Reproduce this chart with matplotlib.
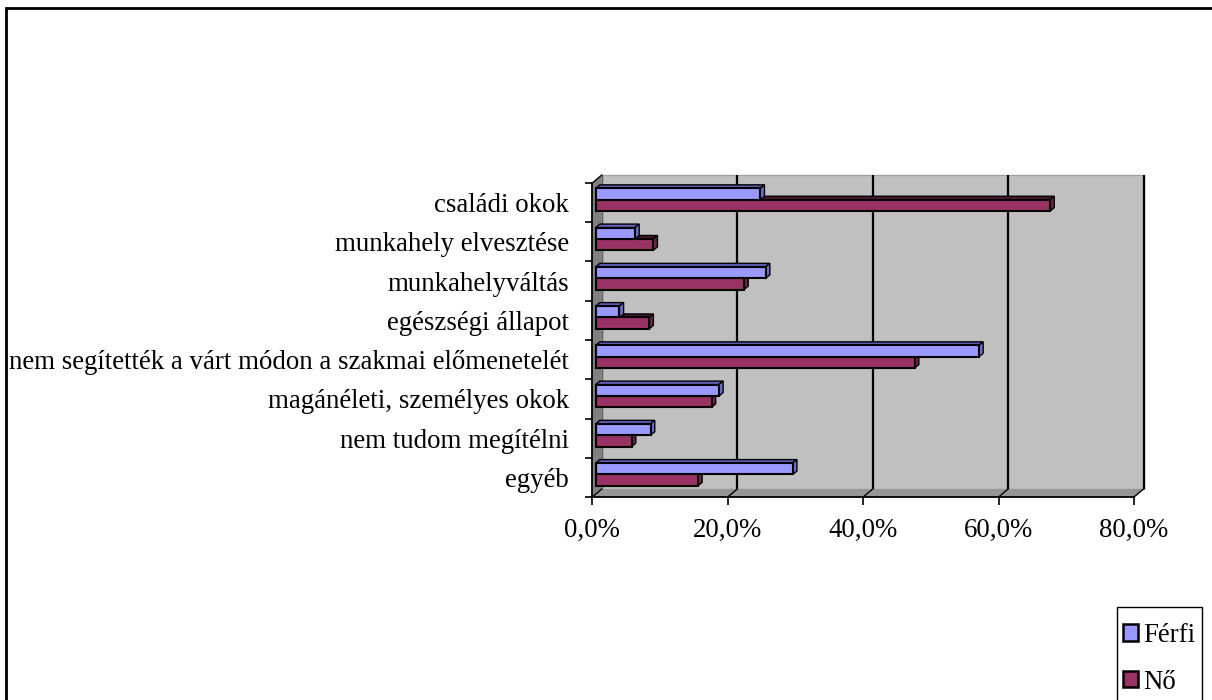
import matplotlib
matplotlib.use("Agg")
import matplotlib.pyplot as plt
from matplotlib.patches import Polygon, Rectangle, Patch
import numpy as np

# ---- data -------------------------------------------------------------
categories = [
    "családi okok",
    "munkahely elvesztése",
    "munkahelyváltás",
    "egészségi állapot",
    "nem segítették a várt módon a szakmai előmenetelét",
    "magánéleti, személyes okok",
    "nem tudom megítélni",
    "egyéb",
]
ferfi = [24.3, 5.8, 25.1, 3.5, 56.6, 18.2, 8.1, 29.1]
no = [67.1, 8.5, 21.9, 7.9, 47.1, 17.1, 5.3, 15.1]
series_names = ["Férfi", "Nő"]
x_ticks = [0, 20, 40, 60, 80]
x_labels = ["0,0%", "20,0%", "40,0%", "60,0%", "80,0%"]

# ---- style --------------------------------------------------------------
plt.rcParams["font.family"] = ["Liberation Serif", "DejaVu Serif"]
FS = 19.4
face = {"Férfi": "#9999FF", "Nő": "#993366"}
top_c = {"Férfi": "#5E5EB4", "Nő": "#4A1530"}
side_c = {"Férfi": "#7070CC", "Nő": "#6E2347"}

W, H = 1212, 700
fig = plt.figure(figsize=(W / 100, H / 100), dpi=100)

# front plane of the 3-D box, in pixels
px0, px1 = 592.3, 1134.0
py0, py1 = 183.0, 497.0
ax = fig.add_axes([px0 / W, 1 - py1 / H, (px1 - px0) / W, (py1 - py0) / H])
ax.set_facecolor("none")
n = len(categories)
ax.set_xlim(0, 80)
ax.set_ylim(n - 0.5, -0.5)

DEPTH_PX = (9.5, 8.0)  # screen shift of the back wall (right, up)


def shift(d):
    """Data-space offset for a fraction d of the box depth."""
    o = ax.transData.transform((0, 0))
    s = o + np.array(DEPTH_PX) * d
    return ax.transData.inverted().transform(s)


def poly(pts, **kw):
    p = Polygon(pts, closed=True, clip_on=False, **kw)
    ax.add_patch(p)
    return p


D = shift(1.0)
ybot, ytop = n - 0.5, -0.5

# walls and floor
poly([(0 + D[0], ybot + D[1]), (80 + D[0], ybot + D[1]),
      (80 + D[0], ytop + D[1]), (0 + D[0], ytop + D[1])],
     facecolor="#C0C0C0", edgecolor="#A0A0A0", linewidth=1.0, zorder=0.5)
poly([(0, ybot), (80, ybot), (80 + D[0], ybot + D[1]), (0 + D[0], ybot + D[1])],
     facecolor="#969696", edgecolor="none", zorder=0.6)
poly([(0, ytop), (0, ybot), (0 + D[0], ybot + D[1]), (0 + D[0], ytop + D[1])],
     facecolor="#808080", edgecolor="none", zorder=0.6)

# gridlines on the back wall and their traces across the floor
for t in x_ticks:
    if t > 0:
        ax.plot([t + D[0], t + D[0]], [ybot + D[1], ytop + D[1]], color="black",
                lw=1.6, zorder=0.7, clip_on=False, solid_capstyle="butt")
    ax.plot([t, t + D[0]], [ybot, ybot + D[1]], color="black", lw=1.0,
            zorder=0.7, clip_on=False)
ax.plot([0, D[0]], [ytop, ytop + D[1]], color="black", lw=1.0, zorder=0.7,
        clip_on=False)
ax.plot([D[0], D[0]], [ybot + D[1], ytop + D[1]], color="#606060", lw=1.0,
        zorder=0.7, clip_on=False)

# 3-D bars
BH = 0.29
d0, d1 = 0.36, 0.8
S0, S1 = shift(d0), shift(d1)


def bar3d(y_low, v, name, z):
    y_high = y_low + BH
    # top face (smaller y value is higher on screen)
    poly([(S0[0], y_low + S0[1]), (v + S0[0], y_low + S0[1]),
          (v + S1[0], y_low + S1[1]), (S1[0], y_low + S1[1])],
         facecolor=top_c[name], edgecolor="black", linewidth=1.0, zorder=z)
    # right side face
    poly([(v + S0[0], y_low + S0[1]), (v + S0[0], y_high + S0[1]),
          (v + S1[0], y_high + S1[1]), (v + S1[0], y_low + S1[1])],
         facecolor=side_c[name], edgecolor="black", linewidth=1.0, zorder=z)
    # front face
    poly([(S0[0], y_low + S0[1]), (v + S0[0], y_low + S0[1]),
          (v + S0[0], y_high + S0[1]), (S0[0], y_high + S0[1])],
         facecolor=face[name], edgecolor="black", linewidth=1.5, zorder=z + 0.1)


for i in range(n):
    bar3d(i, no[i], "Nő", 3 + 0.01 * i)
for i in range(n):
    bar3d(i - BH, ferfi[i], "Férfi", 4 + 0.01 * i)

# axes, ticks, labels
for s in ("top", "right"):
    ax.spines[s].set_visible(False)
for s in ("left", "bottom"):
    ax.spines[s].set_color("black")
    ax.spines[s].set_linewidth(1.3)
    ax.spines[s].set_zorder(5)

ax.set_xticks(x_ticks, x_labels)
ax.tick_params(axis="x", direction="out", length=6, width=1.2, pad=9,
               labelsize=FS, colors="black")
ax.set_yticks(np.arange(-0.5, n, 1.0), [""] * (n + 1))
ax.tick_params(axis="y", which="major", direction="out", length=5, width=1.2)
ax.set_yticks(np.arange(n), categories, minor=True)
ax.tick_params(axis="y", which="minor", length=0, pad=17, labelsize=FS)

# legend: square frame drawn separately, entries placed inside it
fig.add_artist(Rectangle((1117 / W, -0.1), (1202 - 1117) / W, 0.1 + 1 - 607 / H,
                         transform=fig.transFigure, fill=False,
                         edgecolor="black", linewidth=1.0, clip_on=False))
handles = [Patch(facecolor=face[s], edgecolor="black", linewidth=1.8)
           for s in series_names]
leg = fig.legend(handles, series_names, loc="upper left",
                 bbox_to_anchor=(1123 / W, 1 - 623 / H), borderaxespad=0,
                 frameon=False, fontsize=FS, handlelength=0.55,
                 handleheight=0.55, handletextpad=0.2, labelspacing=0.8,
                 borderpad=0)

# outer frame of the chart area
fig.add_artist(Rectangle((6 / W, -0.5), 2.0, 1.5 - 7.5 / H,
                         transform=fig.transFigure, fill=False,
                         edgecolor="black", linewidth=2.0, clip_on=False))

fig.savefig("out.png", dpi=100)
